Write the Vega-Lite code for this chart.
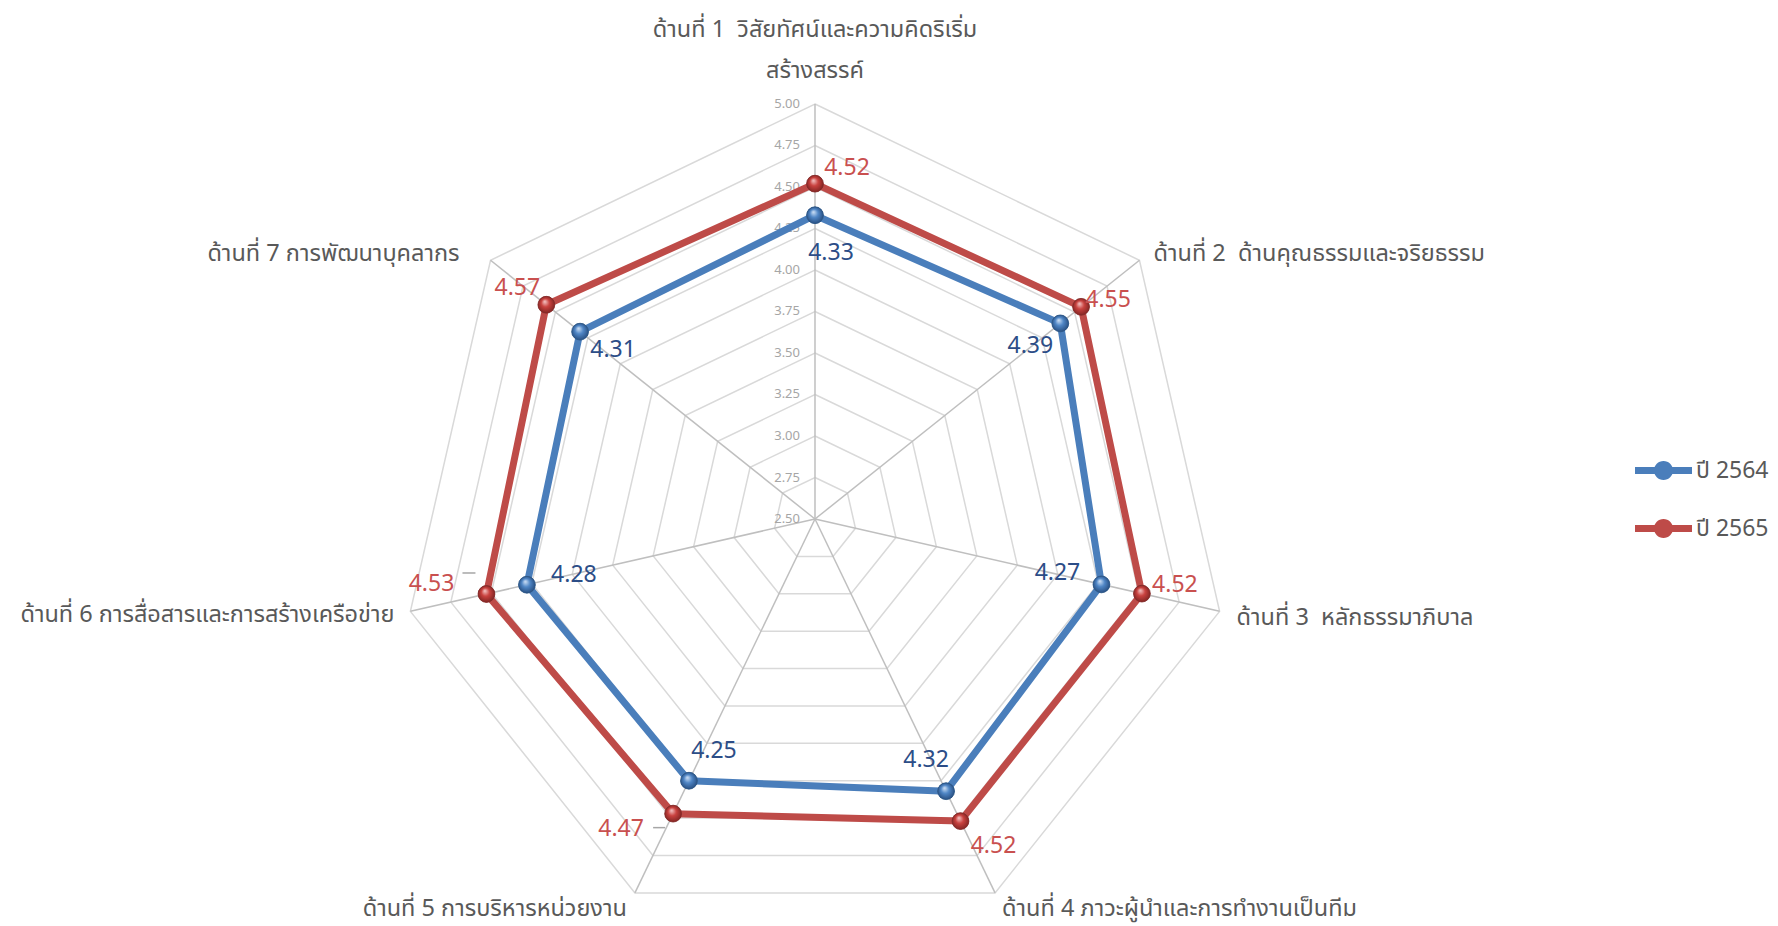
{
  "$schema": "https://vega.github.io/schema/vega-lite/v6.json",
  "width": 1778,
  "height": 926,
  "autosize": {"type": "none"},
  "padding": 0,
  "background": "white",
  "config": {"view": {"stroke": null}, "font": "Noto Sans Thai, Leelawadee UI, Noto Sans, sans-serif"},
  "datasets": {
    "scores": [
      {"k": 0, "series": "ปี 2564", "value": 4.33},
      {"k": 1, "series": "ปี 2564", "value": 4.39},
      {"k": 2, "series": "ปี 2564", "value": 4.27},
      {"k": 3, "series": "ปี 2564", "value": 4.32},
      {"k": 4, "series": "ปี 2564", "value": 4.25},
      {"k": 5, "series": "ปี 2564", "value": 4.28},
      {"k": 6, "series": "ปี 2564", "value": 4.31},
      {"k": 0, "series": "ปี 2565", "value": 4.52},
      {"k": 1, "series": "ปี 2565", "value": 4.55},
      {"k": 2, "series": "ปี 2565", "value": 4.52},
      {"k": 3, "series": "ปี 2565", "value": 4.52},
      {"k": 4, "series": "ปี 2565", "value": 4.47},
      {"k": 5, "series": "ปี 2565", "value": 4.53},
      {"k": 6, "series": "ปี 2565", "value": 4.57}
    ],
    "rings": [
      {"level": 2.75, "k": [0, 1, 2, 3, 4, 5, 6]},
      {"level": 3.0, "k": [0, 1, 2, 3, 4, 5, 6]},
      {"level": 3.25, "k": [0, 1, 2, 3, 4, 5, 6]},
      {"level": 3.5, "k": [0, 1, 2, 3, 4, 5, 6]},
      {"level": 3.75, "k": [0, 1, 2, 3, 4, 5, 6]},
      {"level": 4.0, "k": [0, 1, 2, 3, 4, 5, 6]},
      {"level": 4.25, "k": [0, 1, 2, 3, 4, 5, 6]},
      {"level": 4.5, "k": [0, 1, 2, 3, 4, 5, 6]},
      {"level": 4.75, "k": [0, 1, 2, 3, 4, 5, 6]},
      {"level": 5.0, "k": [0, 1, 2, 3, 4, 5, 6]}
    ],
    "ticks": [
      {"level": 2.5}, {"level": 2.75}, {"level": 3.0}, {"level": 3.25}, {"level": 3.5}, {"level": 3.75},
      {"level": 4.0}, {"level": 4.25}, {"level": 4.5}, {"level": 4.75}, {"level": 5.0}
    ],
    "axes": [
      {"k": 0, "level": 5.0, "label": "ด้านที่ 1\u00a0 วิสัยทัศน์และความคิดริเริ่ม\nสร้างสรรค์"},
      {"k": 1, "level": 5.0, "label": "ด้านที่ 2\u00a0 ด้านคุณธรรมและจริยธรรม"},
      {"k": 2, "level": 5.0, "label": "ด้านที่ 3\u00a0 หลักธรรมาภิบาล"},
      {"k": 3, "level": 5.0, "label": "ด้านที่ 4 ภาวะผู้นำและการทำงานเป็นทีม"},
      {"k": 4, "level": 5.0, "label": "ด้านที่ 5 การบริหารหน่วยงาน"},
      {"k": 5, "level": 5.0, "label": "ด้านที่ 6 การสื่อสารและการสร้างเครือข่าย"},
      {"k": 6, "level": 5.0, "label": "ด้านที่ 7 การพัฒนาบุคลากร"}
    ]
  },
  "layer": [
    {
      "data": {"name": "rings"},
      "transform": [
        {"flatten": ["k"]},
        {"calculate": "(datum.level-2.5)*sin(datum.k*2*PI/7)", "as": "px"},
        {"calculate": "(datum.level-2.5)*cos(datum.k*2*PI/7)", "as": "py"}
      ],
      "mark": {"type": "line", "interpolate": "linear-closed", "stroke": "#d9d9d9", "strokeWidth": 1.5},
      "encoding": {
        "x": {"field": "px", "type": "quantitative", "scale": {"domain": [-4.9096, 5.8012], "nice": false, "zero": false}, "axis": null},
        "y": {"field": "py", "type": "quantitative", "scale": {"domain": [-2.4518, 3.1265], "nice": false, "zero": false}, "axis": null},
        "detail": {"field": "level", "type": "nominal"},
        "order": {"field": "k", "type": "quantitative"}
      }
    },
    {
      "data": {"name": "axes"},
      "transform": [
        {"calculate": "(datum.level-2.5)*sin(datum.k*2*PI/7)", "as": "px"},
        {"calculate": "(datum.level-2.5)*cos(datum.k*2*PI/7)", "as": "py"}
      ],
      "encoding": {
        "x": {"field": "px", "type": "quantitative", "scale": {"domain": [-4.9096, 5.8012], "nice": false, "zero": false}, "axis": null},
        "y": {"field": "py", "type": "quantitative", "scale": {"domain": [-2.4518, 3.1265], "nice": false, "zero": false}, "axis": null}
      },
      "layer": [
        {
          "mark": {"type": "rule", "stroke": "#bfbfbf", "strokeWidth": 1.5},
          "encoding": {"x2": {"datum": 0}, "y2": {"datum": 0}}
        },
        {
          "transform": [{"filter": "datum.k==0"}],
          "mark": {"type": "text", "align": "center", "baseline": "middle", "dy": -74, "lineBreak": "\n", "lineHeight": 41, "fontSize": 23.5, "fill": "#595959"},
          "encoding": {"text": {"field": "label", "type": "nominal"}}
        },
        {
          "transform": [{"filter": "datum.k==1"}],
          "mark": {"type": "text", "align": "left", "baseline": "middle", "dx": 14, "dy": -6, "fontSize": 23.5, "fill": "#595959"},
          "encoding": {"text": {"field": "label", "type": "nominal"}}
        },
        {
          "transform": [{"filter": "datum.k==2"}],
          "mark": {"type": "text", "align": "left", "baseline": "middle", "dx": 17, "dy": 7, "fontSize": 23.5, "fill": "#595959"},
          "encoding": {"text": {"field": "label", "type": "nominal"}}
        },
        {
          "transform": [{"filter": "datum.k==3"}],
          "mark": {"type": "text", "align": "left", "baseline": "middle", "dx": 7, "dy": 16, "fontSize": 23.5, "fill": "#595959"},
          "encoding": {"text": {"field": "label", "type": "nominal"}}
        },
        {
          "transform": [{"filter": "datum.k==4"}],
          "mark": {"type": "text", "align": "right", "baseline": "middle", "dx": -8, "dy": 16, "fontSize": 23.5, "fill": "#595959"},
          "encoding": {"text": {"field": "label", "type": "nominal"}}
        },
        {
          "transform": [{"filter": "datum.k==5"}],
          "mark": {"type": "text", "align": "right", "baseline": "middle", "dx": -16, "dy": 4, "fontSize": 23.5, "fill": "#595959"},
          "encoding": {"text": {"field": "label", "type": "nominal"}}
        },
        {
          "transform": [{"filter": "datum.k==6"}],
          "mark": {"type": "text", "align": "right", "baseline": "middle", "dx": -31, "dy": -6, "fontSize": 23.5, "fill": "#595959"},
          "encoding": {"text": {"field": "label", "type": "nominal"}}
        }
      ]
    },
    {
      "data": {"name": "ticks"},
      "transform": [{"calculate": "datum.level-2.5", "as": "py"}],
      "mark": {"type": "text", "align": "right", "baseline": "middle", "dx": -15, "fontSize": 13, "fill": "#a6a6a6"},
      "encoding": {
        "x": {"datum": 0, "type": "quantitative", "scale": {"domain": [-4.9096, 5.8012], "nice": false, "zero": false}, "axis": null},
        "y": {"field": "py", "type": "quantitative", "scale": {"domain": [-2.4518, 3.1265], "nice": false, "zero": false}, "axis": null},
        "text": {"field": "level", "type": "quantitative", "format": ".2f"}
      }
    },
    {
      "data": {"name": "scores"},
      "transform": [
        {"calculate": "(datum.value-2.5)*sin(datum.k*2*PI/7)", "as": "px"},
        {"calculate": "(datum.value-2.5)*cos(datum.k*2*PI/7)", "as": "py"}
      ],
      "encoding": {
        "x": {"field": "px", "type": "quantitative", "scale": {"domain": [-4.9096, 5.8012], "nice": false, "zero": false}, "axis": null},
        "y": {"field": "py", "type": "quantitative", "scale": {"domain": [-2.4518, 3.1265], "nice": false, "zero": false}, "axis": null}
      },
      "layer": [
        {
          "transform": [{"filter": "datum.series=='ปี 2565' && datum.k==4"}],
          "mark": {"type": "rule", "stroke": "#a6a6a6", "strokeWidth": 1.5, "xOffset": -20, "x2Offset": -8, "yOffset": 14, "y2Offset": 14},
          "encoding": {"x2": {"field": "px"}, "y2": {"field": "py"}}
        },
        {
          "transform": [{"filter": "datum.series=='ปี 2565' && datum.k==5"}],
          "mark": {"type": "rule", "stroke": "#a6a6a6", "strokeWidth": 1.5, "xOffset": -24, "x2Offset": -11, "yOffset": -21, "y2Offset": -21},
          "encoding": {"x2": {"field": "px"}, "y2": {"field": "py"}}
        },
        {
          "transform": [{"filter": "datum.series=='ปี 2564'"}],
          "mark": {"type": "line", "interpolate": "linear-closed", "stroke": "#4a7ebb", "strokeWidth": 7, "strokeJoin": "round"},
          "encoding": {"order": {"field": "k", "type": "quantitative"}}
        },
        {
          "transform": [{"filter": "datum.series=='ปี 2565'"}],
          "mark": {"type": "line", "interpolate": "linear-closed", "stroke": "#be4b48", "strokeWidth": 7, "strokeJoin": "round"},
          "encoding": {"order": {"field": "k", "type": "quantitative"}}
        },
        {
          "mark": {"type": "point", "shape": "circle", "filled": true, "opacity": 1, "size": 283},
          "encoding": {
            "color": {
              "field": "series", "type": "nominal",
              "scale": {"domain": ["ปี 2564", "ปี 2565"], "range": ["#4a7ebb", "#be4b48"]},
              "legend": {
                "title": null, "orient": "none", "legendX": 1652, "legendY": 459, "padding": 0,
                "symbolType": "M-3,-0.36L3,-0.36L3,0.36L-3,0.36Z M1,0A1,1 0 1,1 -1,0A1,1 0 1,1 1,0Z",
                "symbolSize": 361, "labelFontSize": 23, "labelColor": "#595959", "labelOffset": 21, "rowPadding": 34,
                "labelFont": "Noto Sans Thai, Leelawadee UI, Noto Sans, sans-serif"
              }
            }
          }
        },
        {
          "transform": [{"filter": "datum.series=='ปี 2564'"}],
          "mark": {"type": "point", "shape": "circle", "filled": true, "opacity": 1, "size": 283, "stroke": "#2b5482", "strokeWidth": 0.8,
            "fill": {"gradient": "radial", "x1": 0.4, "y1": 0.3, "r1": 0, "x2": 0.5, "y2": 0.5, "r2": 0.55,
              "stops": [{"offset": 0, "color": "#d4e4f7"}, {"offset": 0.45, "color": "#4f86c6"}, {"offset": 1, "color": "#24497a"}]}}
        },
        {
          "transform": [{"filter": "datum.series=='ปี 2565'"}],
          "mark": {"type": "point", "shape": "circle", "filled": true, "opacity": 1, "size": 283, "stroke": "#7d2a28", "strokeWidth": 0.8,
            "fill": {"gradient": "radial", "x1": 0.4, "y1": 0.3, "r1": 0, "x2": 0.5, "y2": 0.5, "r2": 0.55,
              "stops": [{"offset": 0, "color": "#f5caca"}, {"offset": 0.45, "color": "#c9413e"}, {"offset": 1, "color": "#7a2220"}]}}
        },
        {"transform": [{"filter": "datum.series=='ปี 2565' && datum.k==0"}], "mark": {"type": "text", "dx": 32, "dy": -16, "fontSize": 23, "fill": "#c9504f"}, "encoding": {"text": {"field": "value", "type": "quantitative", "format": ".2f"}}},
        {"transform": [{"filter": "datum.series=='ปี 2565' && datum.k==1"}], "mark": {"type": "text", "dx": 27, "dy": -7, "fontSize": 23, "fill": "#c9504f"}, "encoding": {"text": {"field": "value", "type": "quantitative", "format": ".2f"}}},
        {"transform": [{"filter": "datum.series=='ปี 2565' && datum.k==2"}], "mark": {"type": "text", "dx": 33, "dy": -9, "fontSize": 23, "fill": "#c9504f"}, "encoding": {"text": {"field": "value", "type": "quantitative", "format": ".2f"}}},
        {"transform": [{"filter": "datum.series=='ปี 2565' && datum.k==3"}], "mark": {"type": "text", "dx": 33, "dy": 25, "fontSize": 23, "fill": "#c9504f"}, "encoding": {"text": {"field": "value", "type": "quantitative", "format": ".2f"}}},
        {"transform": [{"filter": "datum.series=='ปี 2565' && datum.k==4"}], "mark": {"type": "text", "dx": -52, "dy": 15, "fontSize": 23, "fill": "#c9504f"}, "encoding": {"text": {"field": "value", "type": "quantitative", "format": ".2f"}}},
        {"transform": [{"filter": "datum.series=='ปี 2565' && datum.k==5"}], "mark": {"type": "text", "dx": -55, "dy": -10, "fontSize": 23, "fill": "#c9504f"}, "encoding": {"text": {"field": "value", "type": "quantitative", "format": ".2f"}}},
        {"transform": [{"filter": "datum.series=='ปี 2565' && datum.k==6"}], "mark": {"type": "text", "dx": -29, "dy": -17, "fontSize": 23, "fill": "#c9504f"}, "encoding": {"text": {"field": "value", "type": "quantitative", "format": ".2f"}}},
        {"transform": [{"filter": "datum.series=='ปี 2564' && datum.k==0"}], "mark": {"type": "text", "dx": 16, "dy": 38, "fontSize": 23, "fill": "#2c4d87"}, "encoding": {"text": {"field": "value", "type": "quantitative", "format": ".2f"}}},
        {"transform": [{"filter": "datum.series=='ปี 2564' && datum.k==1"}], "mark": {"type": "text", "dx": -30, "dy": 23, "fontSize": 23, "fill": "#2c4d87"}, "encoding": {"text": {"field": "value", "type": "quantitative", "format": ".2f"}}},
        {"transform": [{"filter": "datum.series=='ปี 2564' && datum.k==2"}], "mark": {"type": "text", "dx": -44, "dy": -11, "fontSize": 23, "fill": "#2c4d87"}, "encoding": {"text": {"field": "value", "type": "quantitative", "format": ".2f"}}},
        {"transform": [{"filter": "datum.series=='ปี 2564' && datum.k==3"}], "mark": {"type": "text", "dx": -20, "dy": -31, "fontSize": 23, "fill": "#2c4d87"}, "encoding": {"text": {"field": "value", "type": "quantitative", "format": ".2f"}}},
        {"transform": [{"filter": "datum.series=='ปี 2564' && datum.k==4"}], "mark": {"type": "text", "dx": 25, "dy": -30, "fontSize": 23, "fill": "#2c4d87"}, "encoding": {"text": {"field": "value", "type": "quantitative", "format": ".2f"}}},
        {"transform": [{"filter": "datum.series=='ปี 2564' && datum.k==5"}], "mark": {"type": "text", "dx": 47, "dy": -10, "fontSize": 23, "fill": "#2c4d87"}, "encoding": {"text": {"field": "value", "type": "quantitative", "format": ".2f"}}},
        {"transform": [{"filter": "datum.series=='ปี 2564' && datum.k==6"}], "mark": {"type": "text", "dx": 33, "dy": 18, "fontSize": 23, "fill": "#2c4d87"}, "encoding": {"text": {"field": "value", "type": "quantitative", "format": ".2f"}}}
      ]
    }
  ]
}
